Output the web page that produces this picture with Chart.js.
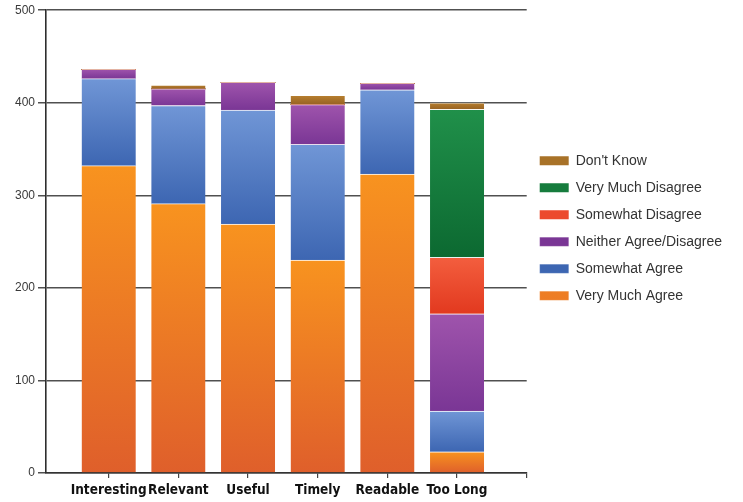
<!DOCTYPE html>
<html>
<head>
<meta charset="utf-8">
<script src="https://cdn.jsdelivr.net/npm/chart.js@4.4.1/dist/chart.umd.min.js"></script>
<style>
  html, body { margin: 0; padding: 0; background: #ffffff; }
  #wrap { width: 743px; height: 502px; position: relative; }
</style>
</head>
<body>
<div id="wrap"><canvas id="chart"></canvas></div>
<script>
// Survey responses per question, stacked from the bottom up
const categories = ['Interesting', 'Relevant', 'Useful', 'Timely', 'Readable', 'Too Long'];
const veryMuchAgree      = [332, 291, 269, 230, 323, 23];
const somewhatAgree      = [ 94, 106, 123, 125,  91, 44];
const neitherAgree       = [ 10,  18,  30,  43,   7, 105];
const somewhatDisagree   = [  0,   0,   0,   0,   0, 61];
const veryMuchDisagree   = [  0,   0,   0,   0,   0, 160];
const dontKnow           = [  0,   4,   0,  10,   0,  7];
const yTicks = [0, 100, 200, 300, 400, 500];

const seriesNames = ['Very Much Agree', 'Somewhat Agree', 'Neither Agree/Disagree',
                     'Somewhat Disagree', 'Very Much Disagree', "Don't Know"];
const seriesValues = [veryMuchAgree, somewhatAgree, neitherAgree,
                      somewhatDisagree, veryMuchDisagree, dontKnow];
// [light top, dark bottom, flat swatch]
const shades = [
  ['#f8931f', '#df5f2b', '#ef7a25'],
  ['#7096d6', '#3d66b2', '#5680c6'],
  ['#9f54ac', '#7a3695', '#8c45a1'],
  ['#f35e3e', '#e2391f', '#ec4a2e'],
  ['#20904a', '#0c6931', '#167c3d'],
  ['#b8802f', '#976222', '#a87228']
];

// Each segment is shaded light at its top edge and darker towards its base
function segmentFill(ds) {
  return function (ctx) {
    if (ctx.type !== 'data') return shades[ds][2];
    const y = ctx.chart.scales.y;
    const area = ctx.chart.chartArea;
    if (!y || !area) return shades[ds][2];
    const i = ctx.dataIndex;
    let base = 0;
    for (let k = 0; k < ds; k++) base += seriesValues[k][i];
    const top = base + seriesValues[ds][i];
    const pTop = y.getPixelForValue(top);
    const pBase = y.getPixelForValue(base);
    if (!isFinite(pTop) || !isFinite(pBase) || Math.abs(pBase - pTop) < 0.5) return shades[ds][2];
    const g = ctx.chart.ctx.createLinearGradient(0, pTop, 0, pBase);
    g.addColorStop(0, shades[ds][0]);
    g.addColorStop(1, shades[ds][1]);
    return g;
  };
}

const datasets = seriesNames.map((name, ds) => ({
  label: name,
  data: seriesValues[ds].map((v, i) => ({ x: i, y: v })),
  backgroundColor: segmentFill(ds),
  borderColor: 'rgba(255,255,255,0.55)',
  borderWidth: (ctx) => (ctx.raw && ctx.raw.y > 0) ? { top: 1, left: 0, right: 0, bottom: 0 } : 0,
  borderSkipped: false,
  barThickness: 54
}));

new Chart(document.getElementById('chart'), {
  type: 'bar',
  data: { datasets },
  options: {
    responsive: true,
    maintainAspectRatio: false,
    animation: false,
    layout: { padding: { top: 10, right: 11, bottom: 0, left: 0 } },
    plugins: {
      tooltip: { enabled: false },
      legend: {
        position: 'right',
        align: 'start',
        reverse: true,
        maxWidth: 240,
        title: { display: true, text: '', font: { size: 1 }, padding: { top: 129.5, bottom: 0 } },
        labels: {
          boxWidth: 29,
          boxHeight: 9,
          padding: 13,
          color: '#333333',
          font: { family: "'Liberation Sans', Arial, sans-serif", size: 14 }
        }
      }
    },
    scales: {
      x: {
        type: 'linear',
        stacked: true,
        offset: false,
        min: -0.9,
        max: 6,
        afterBuildTicks: (scale) => {
          scale.ticks = categories.map((c, i) => ({ value: i })).concat([{ value: 6 }]);
        },
        afterFit: (scale) => { scale.height = 29; },
        grid: { offset: false, drawOnChartArea: false, drawTicks: true, tickLength: 5, color: '#444444', lineWidth: 1.2 },
        border: { display: true, color: '#333333', width: 1.5 },
        ticks: {
          autoSkip: false,
          maxRotation: 0,
          padding: 4,
          color: '#111111',
          font: { family: "'DejaVu Sans Condensed', 'DejaVu Sans', sans-serif", size: 13.5, weight: 'bold' },
          callback: (v) => (Number.isInteger(v) && v < categories.length) ? categories[v] : ''
        }
      },
      y: {
        stacked: true,
        min: 0,
        max: 500,
        afterBuildTicks: (scale) => { scale.ticks = yTicks.map(v => ({ value: v })); },
        afterFit: (scale) => { scale.width = 46; },
        grid: { color: '#505050', lineWidth: 1.5, tickLength: 8 },
        border: { display: true, color: '#2e2e2e', width: 1.6 },
        ticks: {
          padding: 3,
          color: '#3a3a3a',
          font: { family: "'Liberation Sans', Arial, sans-serif", size: 12 }
        }
      }
    }
  }
});
</script>
</body>
</html>
